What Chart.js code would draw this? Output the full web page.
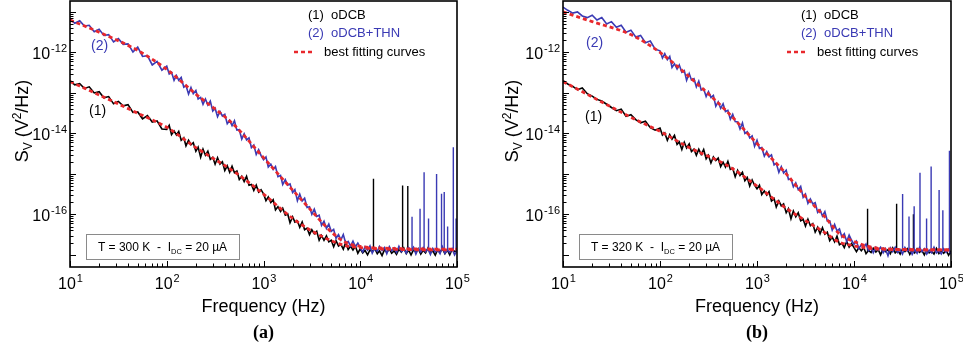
<!DOCTYPE html>
<html>
<head>
<meta charset="utf-8">
<script src="https://cdn.jsdelivr.net/npm/chart.js@4.4.1/dist/chart.umd.min.js"></script>
<style>
  body { margin: 0; background: #fff; width: 963px; height: 351px; overflow: hidden; position: relative; }
  canvas { position: absolute; top: 0; }
  #chartA { left: 0; }
  #chartB { left: 481px; }
</style>
</head>
<body>
<canvas id="chartA" width="481" height="351"></canvas>
<canvas id="chartB" width="482" height="351"></canvas>
<script>
// frequency grid (Hz), shared by all measured spectra
const freq = [10, 11.2, 12.6, 14.1, 15.8, 17.8, 20, 22.4, 25.1, 28.2, 31.6, 35.5, 39.8, 44.7, 50.1, 56.2, 63.1, 70.8, 79.4, 89.1,
  100, 106, 112, 119, 126, 133, 141, 150, 158, 168, 178, 188, 200, 211, 224, 237, 251, 266, 282, 299,
  316, 335, 355, 376, 398, 422, 447, 473, 501, 531, 562, 596, 631, 668, 708, 750, 794, 841, 891, 944,
  1000, 1060, 1120, 1190, 1260, 1330, 1410, 1500, 1580, 1680, 1780, 1880, 2000, 2110, 2240, 2370, 2510, 2660, 2820, 2990,
  3160, 3350, 3550, 3760, 3980, 4220, 4470, 4730, 5010, 5310, 5620, 5960, 6310, 6680, 7080, 7500, 7940, 8410, 8910, 9440,
  10000, 10600, 11200, 11900, 12600, 13300, 14100, 15000, 15800, 16800, 17800, 18800, 20000, 21100, 22400, 23700, 25100, 26600, 28200, 29900,
  31600, 33500, 35500, 37600, 39800, 42200, 44700, 47300, 50100, 53100, 56200, 59600, 63100, 66800, 70800, 75000, 79400, 84100, 89100, 94400,
  100000];

// log10 of S_V (V^2/Hz)
const oDCB_300 = [-12.70, -12.80, -12.77, -12.89, -12.85, -13.00, -12.97, -13.12, -13.09, -13.27, -13.21, -13.32, -13.29, -13.48, -13.47, -13.64, -13.56, -13.72, -13.69, -13.89,
  -13.90, -13.80, -14.03, -13.94, -14.04, -13.95, -14.17, -14.11, -14.31, -14.17, -14.28, -14.23, -14.44, -14.34, -14.59, -14.39, -14.54, -14.44, -14.64, -14.59,
  -14.76, -14.60, -14.76, -14.70, -14.92, -14.80, -14.96, -14.81, -14.97, -14.93, -15.14, -15.06, -15.19, -15.06, -15.28, -15.26, -15.41, -15.28, -15.45, -15.39,
  -15.49, -15.66, -15.57, -15.71, -15.64, -15.89, -15.81, -15.93, -15.85, -16.02, -15.99, -16.21, -16.06, -16.19, -16.16, -16.32, -16.19, -16.38, -16.34, -16.50,
  -16.38, -16.48, -16.42, -16.64, -16.52, -16.64, -16.53, -16.68, -16.64, -16.80, -16.65, -16.78, -16.74, -16.86, -16.69, -16.87, -16.79, -16.88, -16.79, -16.96,
  -16.85, -16.95, -16.89, -17.00, -16.88, -16.92, -16.84, -16.97, -16.90, -17.02, -16.87, -16.94, -16.85, -16.96, -16.90, -16.99, -16.86, -16.93, -16.83, -16.97,
  -16.88, -17.00, -16.88, -16.92, -16.85, -16.98, -16.89, -16.95, -16.83, -16.95, -16.90, -17.01, -16.87, -16.93, -16.85, -16.97, -16.88, -17.00, -16.86, -16.92,
  -16.90];
const oDCBTHN_300 = [-11.17, -11.28, -11.22, -11.35, -11.33, -11.49, -11.43, -11.58, -11.56, -11.74, -11.66, -11.80, -11.79, -11.99, -11.87, -12.10, -12.08, -12.31, -12.22, -12.44,
  -12.34, -12.53, -12.49, -12.69, -12.57, -12.69, -12.62, -12.86, -12.82, -13.03, -12.87, -13.02, -12.94, -13.15, -13.11, -13.28, -13.15, -13.30, -13.20, -13.45,
  -13.38, -13.59, -13.46, -13.57, -13.53, -13.76, -13.68, -13.81, -13.69, -13.92, -13.91, -14.14, -14.01, -14.16, -14.11, -14.35, -14.29, -14.52, -14.40, -14.55,
  -14.65, -14.58, -14.83, -14.76, -14.89, -14.82, -15.07, -15.04, -15.26, -15.14, -15.28, -15.25, -15.46, -15.39, -15.66, -15.50, -15.67, -15.60, -15.83, -15.81,
  -16.00, -15.87, -16.05, -16.02, -16.27, -16.17, -16.35, -16.24, -16.42, -16.37, -16.59, -16.50, -16.63, -16.50, -16.71, -16.67, -16.78, -16.66, -16.80, -16.71,
  -16.83, -16.93, -16.80, -16.88, -16.78, -16.96, -16.84, -16.91, -16.79, -16.89, -16.82, -16.97, -16.80, -16.90, -16.83, -16.94, -16.79, -16.92, -16.86, -16.96,
  -16.82, -16.89, -16.81, -16.98, -16.85, -16.93, -16.82, -16.92, -16.86, -16.99, -16.84, -16.93, -16.88, -16.97, -16.80, -16.96, -16.88, -16.94, -16.85, -17.00,
  -16.90];
const oDCB_320 = [-12.70, -12.78, -12.84, -12.92, -12.88, -13.02, -13.08, -13.16, -13.20, -13.28, -13.36, -13.44, -13.40, -13.58, -13.54, -13.66, -13.74, -13.70, -13.86, -13.92,
  -13.87, -14.04, -13.99, -14.17, -14.03, -14.14, -14.05, -14.27, -14.21, -14.40, -14.22, -14.36, -14.26, -14.45, -14.39, -14.54, -14.39, -14.52, -14.40, -14.63,
  -14.54, -14.73, -14.58, -14.67, -14.61, -14.82, -14.71, -14.83, -14.69, -14.89, -14.86, -15.07, -14.91, -15.04, -14.96, -15.17, -15.09, -15.30, -15.15, -15.28,
  -15.37, -15.28, -15.51, -15.42, -15.52, -15.44, -15.67, -15.61, -15.82, -15.67, -15.79, -15.74, -15.96, -15.86, -16.11, -15.92, -16.06, -15.96, -16.16, -16.12,
  -16.29, -16.12, -16.28, -16.23, -16.44, -16.32, -16.48, -16.33, -16.49, -16.44, -16.65, -16.56, -16.68, -16.54, -16.75, -16.71, -16.82, -16.67, -16.81, -16.72,
  -16.82, -16.92, -16.82, -16.90, -16.82, -16.97, -16.89, -16.94, -16.84, -16.93, -16.87, -17.00, -16.84, -16.92, -16.87, -16.97, -16.83, -16.95, -16.89, -16.98,
  -16.86, -16.92, -16.85, -16.99, -16.88, -16.95, -16.85, -16.94, -16.89, -17.00, -16.86, -16.95, -16.91, -16.98, -16.84, -16.97, -16.90, -16.96, -16.88, -17.01,
  -16.90];
const oDCBTHN_320 = [-10.88, -10.96, -11.03, -11.00, -11.10, -11.14, -11.08, -11.20, -11.14, -11.30, -11.24, -11.38, -11.33, -11.50, -11.45, -11.62, -11.58, -11.76, -11.72, -11.92,
  -11.96, -12.14, -12.03, -12.18, -12.10, -12.37, -12.28, -12.41, -12.31, -12.49, -12.45, -12.69, -12.52, -12.68, -12.65, -12.85, -12.71, -12.93, -12.90, -13.09,
  -12.97, -13.11, -13.06, -13.33, -13.22, -13.38, -13.27, -13.46, -13.43, -13.65, -13.53, -13.71, -13.72, -13.89, -13.74, -14.00, -13.96, -14.11, -14.06, -14.32,
  -14.17, -14.37, -14.35, -14.56, -14.45, -14.58, -14.53, -14.78, -14.74, -14.96, -14.82, -14.98, -14.91, -15.14, -15.12, -15.32, -15.22, -15.39, -15.31, -15.58,
  -15.50, -15.73, -15.62, -15.74, -15.71, -15.95, -15.89, -16.04, -15.93, -16.16, -16.16, -16.39, -16.25, -16.41, -16.36, -16.56, -16.48, -16.67, -16.51, -16.64,
  -16.74, -16.66, -16.84, -16.75, -16.82, -16.73, -16.89, -16.82, -16.95, -16.81, -16.88, -16.81, -16.95, -16.85, -17.02, -16.83, -16.92, -16.81, -16.94, -16.87,
  -16.98, -16.82, -16.91, -16.85, -16.99, -16.87, -16.96, -16.82, -16.92, -16.85, -16.98, -16.88, -16.95, -16.81, -16.95, -16.90, -16.98, -16.85, -16.94, -16.86,
  -16.98];

// best fitting curves (log10 S_V)
const fitFreq = [10, 20, 50, 100, 200, 500, 1000, 2000, 3000, 5000, 7000, 10000, 20000, 100000];
const fit1_300 = [-12.72, -13.05, -13.50, -13.85, -14.35, -14.95, -15.50, -16.10, -16.38, -16.65, -16.77, -16.82, -16.86, -16.88];
const fit2_300 = [-11.20, -11.50, -11.95, -12.42, -13.03, -13.80, -14.60, -15.40, -15.86, -16.43, -16.69, -16.79, -16.84, -16.86];
const fit1_320 = [-12.72, -13.10, -13.60, -13.95, -14.35, -14.80, -15.30, -15.85, -16.12, -16.45, -16.68, -16.78, -16.86, -16.88];
const fit2_320 = [-11.00, -11.24, -11.56, -12.00, -12.60, -13.48, -14.25, -15.00, -15.50, -16.06, -16.47, -16.67, -16.85, -16.88];

// interference peaks: frequency and top (log10 S_V)
const spikeBase = -16.9;
const spk1_300_f = [13700, 27400, 31000];
const spk1_300_v = [-15.12, -15.29, -15.30];
const spk2_300_f = [34300, 41500, 45700, 50800, 61500, 69200, 73800, 80000, 91600, 97800];
const spk2_300_v = [-16.06, -15.86, -14.96, -16.10, -15.00, -15.49, -15.45, -16.30, -14.34, -16.10];
const spk1_320_f = [13800, 27500, 41000];
const spk1_320_v = [-15.86, -15.74, -16.00];
const spk2_320_f = [31700, 36900, 41700, 47900, 56000, 62400, 75400, 82400, 96400];
const spk2_320_v = [-15.50, -16.05, -15.80, -14.97, -16.10, -14.82, -15.40, -15.90, -14.43];

// axis labels
const xTickExp = [1, 2, 3, 4, 5];
const yTickExp = [-16, -14, -12];
const yMajorExp = [-17, -16, -15, -14, -13, -12, -11];

const SANS = '"Liberation Sans", Arial, sans-serif';
const BLUE = '#3a3ab4';
const RED = '#e8282c';

const pts = (fs, logs) => fs.map((f, i) => ({ x: f, y: Math.pow(10, logs[i]) }));
const spikes = (fs, tops) => fs.flatMap((f, i) => [
  { x: f, y: Math.pow(10, spikeBase) }, { x: f, y: Math.pow(10, tops[i]) }, { x: f, y: null }
]);

function powLabel(ctx, exp, x, y, align, bs, es) {
  ctx.font = bs + 'px ' + SANS;
  const wb = ctx.measureText('10').width;
  ctx.font = es + 'px ' + SANS;
  const we = ctx.measureText(String(exp)).width;
  const left = align === 'right' ? x - wb - we - 1 : x - (wb + we) / 2;
  ctx.textAlign = 'left';
  ctx.textBaseline = 'alphabetic';
  ctx.font = bs + 'px ' + SANS;
  ctx.fillText('10', left, y);
  ctx.font = es + 'px ' + SANS;
  ctx.fillText(String(exp), left + wb + 1, y - bs * 0.45);
}

// draws text pieces in sequence: [text, size, dy]
function runs(ctx, parts, x, y, color) {
  let cx = x;
  ctx.textAlign = 'left';
  ctx.textBaseline = 'alphabetic';
  ctx.fillStyle = color || '#000';
  parts.forEach(([t, s, dy]) => {
    ctx.font = s + 'px ' + SANS;
    ctx.fillText(t, cx, y + (dy || 0));
    cx += ctx.measureText(t).width;
  });
}
function runsWidth(ctx, parts) {
  return parts.reduce((w, [t, s]) => { ctx.font = s + 'px ' + SANS; return w + ctx.measureText(t).width; }, 0);
}

const decor = {
  id: 'decor',
  afterDraw(chart, args, o) {
    const { ctx, chartArea: a, scales: { x, y } } = chart;
    ctx.save();
    // frame
    ctx.strokeStyle = '#000';
    ctx.lineWidth = 1.6;
    ctx.strokeRect(a.left, a.top, a.right - a.left, a.bottom - a.top);
    // inward ticks, left and bottom
    ctx.lineWidth = 1;
    ctx.beginPath();
    xTickExp.forEach(e => {
      for (let m = 1; m <= 9; m++) {
        const v = m * Math.pow(10, e);
        if (v > x.max) break;
        const px = Math.round(x.getPixelForValue(v)) + 0.5;
        const len = m === 1 ? 6 : 3.5;
        ctx.moveTo(px, a.bottom); ctx.lineTo(px, a.bottom - len);
      }
    });
    yMajorExp.forEach(e => {
      for (let m = 1; m <= 9; m++) {
        const v = m * Math.pow(10, e);
        if (v < y.min || v > y.max) continue;
        const py = Math.round(y.getPixelForValue(v)) + 0.5;
        const len = m === 1 ? 6 : 3.5;
        ctx.moveTo(a.left, py); ctx.lineTo(a.left + len, py);
      }
    });
    ctx.stroke();

    // tick labels
    ctx.fillStyle = '#000';
    xTickExp.forEach(e => powLabel(ctx, e, x.getPixelForValue(Math.pow(10, e)), a.bottom + 22, 'center', 16, 11));
    yTickExp.forEach(e => powLabel(ctx, e, a.left - 3, y.getPixelForValue(Math.pow(10, e)) + 7, 'right', 16, 11));

    // axis titles
    ctx.font = '18px ' + SANS;
    ctx.textAlign = 'center';
    ctx.fillText('Frequency (Hz)', (a.left + a.right) / 2, a.bottom + 45);
    const yt = [['S', 18], ['V', 12, 4], [' (V', 18], ['2', 12, -7], ['/Hz)', 18]];
    ctx.save();
    ctx.translate(a.left + o.yTitleDx, 121);
    ctx.rotate(-Math.PI / 2);
    runs(ctx, yt, -runsWidth(ctx, yt) / 2, 6);
    ctx.restore();

    // panel tag
    ctx.font = 'bold 18px "Liberation Serif", "Times New Roman", serif';
    ctx.textAlign = 'center';
    ctx.fillStyle = '#000';
    ctx.fillText(o.tag, (a.left + a.right) / 2, a.bottom + 71);

    // legend
    const lx = a.left + 238, ly = a.top;
    runs(ctx, [['(1)  oDCB', 13]], lx, ly + 18, '#000');
    runs(ctx, [['(2)  oDCB+THN', 13]], lx, ly + 36, BLUE);
    ctx.strokeStyle = RED;
    ctx.lineWidth = 2.6;
    ctx.setLineDash([4, 3]);
    ctx.beginPath();
    ctx.moveTo(lx - 14, ly + 51); ctx.lineTo(lx + 6, ly + 51);
    ctx.stroke();
    ctx.setLineDash([]);
    runs(ctx, [['best fitting curves', 13]], lx + 16, ly + 55, '#000');

    // curve tags
    runs(ctx, [['(2)', 14]], a.left + o.tag2[0], a.top + o.tag2[1], BLUE);
    runs(ctx, [['(1)', 14]], a.left + o.tag1[0], a.top + o.tag1[1], '#000');

    // condition box
    const bx = a.left + 16, by = 234, bw = 153, bh = 25;
    ctx.fillStyle = '#fff';
    ctx.fillRect(bx, by, bw, bh);
    ctx.strokeStyle = '#8a8a8a';
    ctx.lineWidth = 1;
    ctx.strokeRect(bx + 0.5, by + 0.5, bw, bh);
    const bt = [['T = ' + o.temp + ' K  -  I', 12], ['DC', 7.5, 3], [' = 20 \u00b5A', 12]];
    runs(ctx, bt, bx + (bw - runsWidth(ctx, bt)) / 2, by + 17, '#000');
    ctx.restore();
  }
};

function makeChart(id, s1, s2, f1, f2, k1f, k1v, k2f, k2v, pad, deco) {
  const line = (data, color, w, order, extra) => Object.assign({
    data, borderColor: color, borderWidth: w, pointRadius: 0, showLine: true, order, tension: 0
  }, extra || {});
  return new Chart(document.getElementById(id), {
    type: 'scatter',
    data: {
      datasets: [
        line(pts(freq, s1), '#000', 1.6, 4),
        line(spikes(k1f, k1v), '#000', 1.4, 4, { spanGaps: false }),
        line(pts(freq, s2), BLUE, 1.6, 3),
        line(spikes(k2f, k2v), BLUE, 1.4, 3, { spanGaps: false }),
        line(pts(fitFreq, f1), RED, 2.8, 1, { borderDash: [4, 3], cubicInterpolationMode: 'monotone' }),
        line(pts(fitFreq, f2), RED, 2.8, 1, { borderDash: [4, 3], cubicInterpolationMode: 'monotone' })
      ]
    },
    options: {
      responsive: false,
      animation: false,
      devicePixelRatio: 1,
      events: [],
      layout: { padding: pad },
      scales: {
        x: { type: 'logarithmic', min: 10, max: 1e5, display: false },
        y: { type: 'logarithmic', min: Math.pow(10, -17.3), max: Math.pow(10, -10.73), display: false }
      },
      plugins: { legend: { display: false }, tooltip: { enabled: false }, decor: deco }
    },
    plugins: [decor]
  });
}

makeChart('chartA', oDCB_300, oDCBTHN_300, fit1_300, fit2_300, spk1_300_f, spk1_300_v, spk2_300_f, spk2_300_v,
  { left: 70, right: 24, top: 1, bottom: 84 },
  { temp: '300', tag: '(a)', yTitleDx: -48, tag2: [21, 49], tag1: [19, 114] });
makeChart('chartB', oDCB_320, oDCBTHN_320, fit1_320, fit2_320, spk1_320_f, spk1_320_v, spk2_320_f, spk2_320_v,
  { left: 82, right: 12, top: 1, bottom: 84 },
  { temp: '320', tag: '(b)', yTitleDx: -51, tag2: [23, 46], tag1: [22, 120] });
</script>
</body>
</html>
